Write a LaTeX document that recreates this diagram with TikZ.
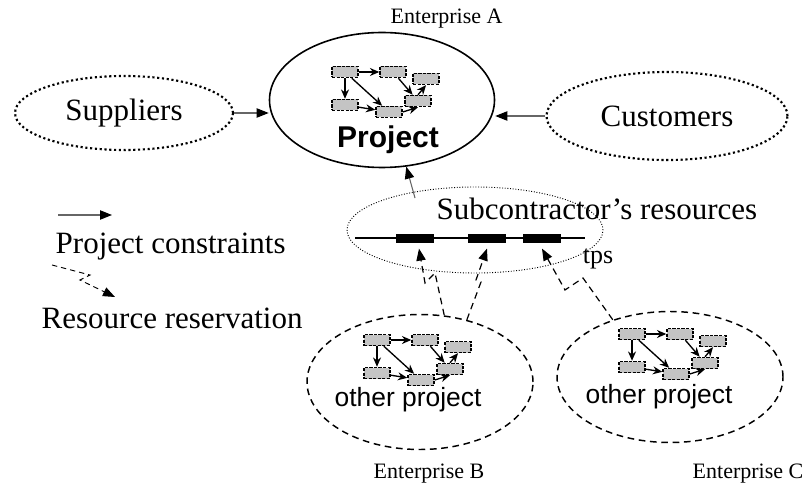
\documentclass[tikz,border=0pt]{standalone}
\usepackage{fontspec}
\setmainfont{Liberation Serif}
\setsansfont{Liberation Sans}
\usetikzlibrary{positioning,shapes.geometric,arrows.meta}

\newdimen\px \px=0.75pt
\newcommand{\bigrm}{\fontsize{23.25}{28}\selectfont}
\newcommand{\smallrm}{\fontsize{16.5}{20}\selectfont}
\newcommand{\othersf}{\sffamily\fontsize{19.8}{24}\selectfont}

% small task network, #1 prefix, (#2,#3) first task
\newcommand{\minigraph}[3]{
	\node[task] (#1a) at (#2,#3) {};
	\node[task] (#1b) at (#2+48,#3) {};
	\node[task] (#1c) at (#2+81,#3+7) {};
	\node[task] (#1d) at (#2,#3+33) {};
	\node[task] (#1e) at (#2+44,#3+40) {};
	\node[task] (#1f) at (#2+73,#3+29) {};
	\draw[flow] (#1a) -- (#1b);
	\draw[flow] (#1a) -- (#1d);
	\draw[flow] (#1a) -- (#1e);
	\draw[flow] (#1d) -- (#1e);
	\draw[flow] (#1b) -- (#1f);
	\draw[flow] (#1f.north) -- (#1c.south);
	\draw[flow] (#1e.east) -- (#1f.south);
}

\begin{document}
\begin{tikzpicture}[x=0.75pt,y=-0.75pt,
		task/.style={rectangle,draw,fill=black!23,line width=1.1pt,dash pattern=on 2.4pt off 1pt,inner sep=0pt,minimum width=26\px,minimum height=11\px},
		flow/.style={line width=1pt,-{Stealth[length=7pt,width=6pt]}},
		ext/.style={ellipse,draw,line width=1.6pt,dotted,inner sep=0pt,font=\bigrm},
		ent/.style={ellipse,draw,line width=1.1pt,dash pattern=on 5pt off 3.5pt,inner sep=0pt},
		slot/.style={rectangle,fill=black,inner sep=0pt,minimum width=38\px,minimum height=9\px},
		cons/.style={draw=black!60,line width=0.8pt,-{Triangle[length=9pt,width=7pt,color=black]}},
		resv/.style={line width=0.9pt,dash pattern=on 5pt off 3.5pt,-{Triangle[length=9pt,width=7pt]}}]
	\useasboundingbox (0,0) rectangle (805,484);

	% enterprise A
	\node[ellipse,draw,line width=1.2pt,inner sep=0pt,minimum width=225\px,minimum height=135\px] (proj) at (382,100) {};
	\node[font=\sffamily\bfseries\fontsize{22.5}{27}\selectfont] (projname) at (388,140) {Project};
	\minigraph{p}{345}{72}
	\node[anchor=base west,font=\smallrm] (entAname) at (386,24) {Enterprise A};

	\node[ext,minimum width=218\px,minimum height=74\px] (sup) at (124,113) {Suppliers};
	\node[ext,minimum width=241\px,minimum height=88\px] (cust) at (667,116) {Customers};
	\draw[cons] (sup.east) -- (sup.east -| proj.west);
	\draw[cons] (cust.west) -- (cust.west -| proj.east);

	% subcontractor
	\node[ellipse,draw,line width=0.7pt,dash pattern=on 0.7pt off 1.3pt,inner sep=0pt,minimum width=256\px,minimum height=86\px] (subc) at (475,230) {};
	\node[anchor=base west,font=\bigrm] (subname) at (432,220) {Subcontractor's resources};
	\coordinate (lineL) at (355,238);
	\coordinate (lineR) at (585,238);
	\draw[line width=1pt] (lineL) -- (lineR);
	\node[slot] (res1) at (415,238.5) {};
	\node[slot] (res2) at (487,238.5) {};
	\node[slot] (res3) at (542,238.5) {};
	\node[font=\fontsize{19.5}{23}\selectfont] (tps) at (598,259) {tps};
	\coordinate (subtail) at (415,198);
	\draw[cons] (subtail) -- (proj.-70);

	% enterprises B and C
	\node[ent,minimum width=226\px,minimum height=135\px] (entB) at (420,382) {};
	\minigraph{b}{377}{340}
	\node[font=\othersf] (otherB) at (408,400) {other project};
	\node[anchor=base west,font=\smallrm] (entBname) at (369,478) {Enterprise B};

	\node[ent,minimum width=226\px,minimum height=131\px] (entC) at (670,377) {};
	\minigraph{c}{632}{334}
	\node[font=\othersf] (otherC) at (659,397) {other project};
	\node[anchor=base west,font=\smallrm] (entCname) at (688,478) {Enterprise C};

	\draw[resv] (entB.70) -- (435,273) -- (425,283) -- ([xshift=3pt,yshift=-4pt]res1.south);
	\draw[resv] (entB.53) -- (481,282) -- (476,280) -- ([yshift=-4pt]res2.south);
	\draw[resv] (entC.135) -- (583,278) -- (565,290) -- ([yshift=-4pt]res3.south);

	% legend
	\coordinate (consA) at (58,215);
	\coordinate (consB) at (112,215);
	\draw[cons] (consA) -- (consB);
	\node[anchor=base west,font=\bigrm] (conslabel) at (51,253) {Project constraints};
	\coordinate (resvA) at (52,265);
	\coordinate (resvB) at (115,297);
	\draw[resv,line width=0.7pt,dash pattern=on 4pt off 3pt] (resvA) -- (90,275) -- (80,280) -- (resvB);
	\node[anchor=base west,font=\bigrm] (resvlabel) at (37,328) {Resource reservation};
\end{tikzpicture}
\end{document}
